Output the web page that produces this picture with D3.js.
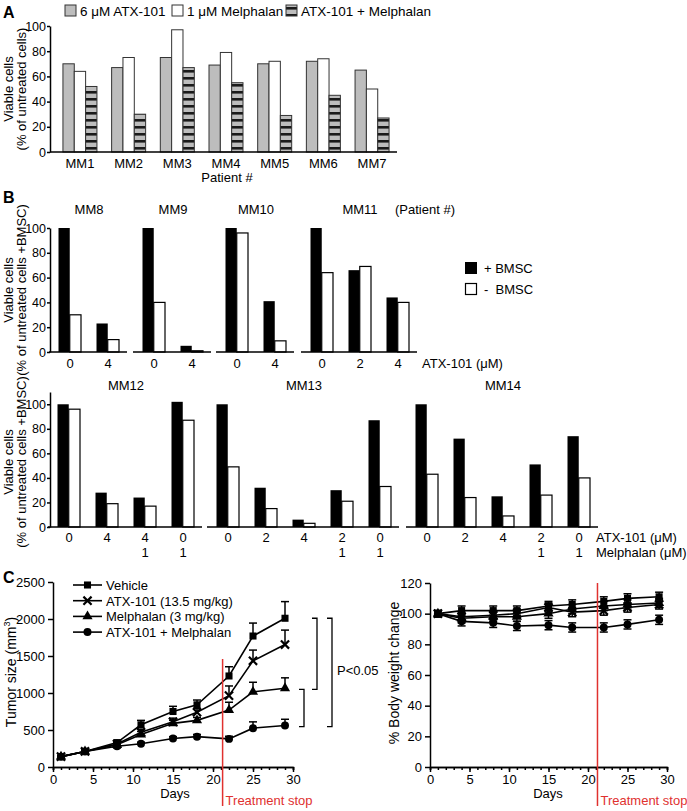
<!DOCTYPE html>
<html>
<head>
<meta charset="utf-8">
<script src="https://cdn.jsdelivr.net/npm/d3@7"></script>
<style>
  body { margin: 0; background: #fff; }
  svg text { font-family: Arial, "Liberation Sans", sans-serif; fill: #000; }
</style>
</head>
<body>
<div id="chart"></div>
<script>
// ---------- Panel A data
const patientsA = ["MM1", "MM2", "MM3", "MM4", "MM5", "MM6", "MM7"];
const atxA = [70, 67, 75, 69, 70, 72, 65];
const melphalanA = [64, 75, 97, 79, 72, 74, 50];
const comboA = [52, 30, 67, 55, 29, 45, 27];
const legendA = ["6 μM ATX-101", "1 μM Melphalan", "ATX-101 + Melphalan"];

// ---------- Panel B data
const patientsTop = ["MM8", "MM9", "MM10", "MM11"];
const atxTop = [[0, 4], [0, 4], [0, 4], [0, 2, 4]];
const plusTop = [[100, 23], [100, 5], [100, 41], [100, 66, 44]];
const minusTop = [[30, 10], [40, 1], [96, 9], [64, 69, 40]];

const patientsBottom = ["MM12", "MM13", "MM14"];
const atxBottom = [[0, 4, 4, 0], [0, 2, 4, 2, 0], [0, 2, 4, 2, 0]];
const melBottom = [["", "", "1", "1"], ["", "", "", "1", "1"], ["", "", "", "1", "1"]];
const plusBottom = [[100, 28, 24, 102], [100, 32, 6, 30, 87], [100, 72, 25, 51, 74]];
const minusBottom = [[96, 19, 17, 87], [49, 15, 3, 21, 33], [43, 24, 9, 26, 40]];

const yTicksB = [0, 20, 40, 60, 80, 100];

// ---------- Panel C data
const days = [1, 4, 8, 11, 15, 18, 22, 25, 29];
const seriesNames = ["Vehicle", "ATX-101 (13.5 mg/kg)", "Melphalan (3 mg/kg)", "ATX-101 + Melphalan"];
const tumorVehicle = [140, 210, 330, 570, 750, 840, 1230, 1770, 2010];
const tumorAtx = [140, 210, 310, 470, 610, 740, 965, 1435, 1655];
const tumorMel = [140, 210, 300, 440, 590, 630, 770, 1015, 1065];
const tumorCombo = [140, 210, 280, 315, 385, 410, 380, 525, 560];
const errVehicle = [10, 15, 20, 60, 70, 65, 125, 175, 225];
const errAtx = [10, 15, 20, 40, 50, 50, 130, 145, 195];
const errMel = [10, 15, 20, 40, 40, 40, 105, 130, 140];
const errCombo = [10, 15, 15, 20, 25, 30, 35, 85, 85];

const weightVehicle = [100, 102, 102, 102, 105, 106, 108, 110, 111];
const weightAtx = [100, 98, 99, 100, 104, 101, 102, 104, 106];
const weightMel = [100, 97, 98, 98, 100, 103, 105, 106, 107];
const weightCombo = [100, 95, 94, 92, 92.5, 91, 91, 93, 96];
const weightErr = [2, 3, 3, 3, 3, 3, 3, 3, 3];

const treatmentStop = 21.2;
const pLabel = "P<0.05";

// ---------- setup
const svg = d3.select("#chart").append("svg")
    .attr("width", 687)
    .attr("height", 811);

const defs = svg.append("defs");
const pat = defs.append("pattern")
    .attr("id", "stripes")
    .attr("patternUnits", "userSpaceOnUse")
    .attr("width", 8).attr("height", 7);
pat.append("rect").attr("width", 8).attr("height", 7).attr("fill", "#bdbdbd");
pat.append("rect").attr("width", 8).attr("height", 2.6).attr("fill", "#1a1a1a");

function styleAxis(g, size) {
    g.attr("font-family", null).attr("font-size", size || 12);
    g.select(".domain").attr("stroke", "#000").attr("stroke-width", 1.5);
    g.selectAll(".tick line").attr("stroke", "#000").attr("stroke-width", 1.5);
    g.selectAll(".tick text").attr("fill", "#000");
}

function label(x, y, txt, opts) {
    opts = opts || {};
    const t = svg.append("text")
        .attr("x", x).attr("y", y)
        .attr("font-size", opts.size || 13)
        .attr("text-anchor", opts.anchor || "start")
        .text(txt);
    if (opts.bold) t.attr("font-weight", "bold");
    if (opts.rotate) t.attr("transform", `rotate(-90,${x},${y})`);
    if (opts.fill) t.style("fill", opts.fill);
    if (opts.pre) t.style("white-space", "pre");
    return t;
}

// panel letters
label(3, 18, "A", { size: 16, bold: true });
label(3, 203, "B", { size: 16, bold: true });
label(3, 583, "C", { size: 16, bold: true });

// ================= Panel A
const yA = d3.scaleLinear().domain([0, 100]).range([152, 26]);
const xA = d3.scaleBand().domain(patientsA).range([55.6, 396.4]);
const innerA = d3.scaleBand().domain([0, 1, 2]).range([-17, 17]);
const fillsA = ["#bdbdbd", "#fff", "url(#stripes)"];
const seriesA = [atxA, melphalanA, comboA];

const gA = svg.append("g");
seriesA.forEach((vals, s) => {
    gA.selectAll(null)
        .data(vals)
        .join("rect")
        .attr("x", (d, i) => xA(patientsA[i]) + xA.bandwidth() / 2 + innerA(s))
        .attr("y", d => yA(d))
        .attr("width", innerA.bandwidth())
        .attr("height", d => yA(0) - yA(d))
        .attr("fill", fillsA[s])
        .attr("stroke", "#333")
        .attr("stroke-width", 1);
});
gA.append("g")
    .attr("transform", "translate(50,0)")
    .call(d3.axisLeft(yA).tickValues([0, 20, 40, 60, 80, 100]).tickSize(3).tickPadding(1).tickSizeOuter(0))
    .call(styleAxis, 12.5);
gA.append("line")
    .attr("x1", 50).attr("x2", 397)
    .attr("y1", yA(0)).attr("y2", yA(0))
    .attr("stroke", "#000").attr("stroke-width", 1.5);
gA.selectAll(null)
    .data(patientsA)
    .join("text")
    .attr("x", d => xA(d) + xA.bandwidth() / 2)
    .attr("y", 168)
    .attr("text-anchor", "middle")
    .attr("font-size", 13)
    .text(d => d);
label(227, 182, "Patient #", { anchor: "middle" });
label(13, 89, "Viable cells", { rotate: true, anchor: "middle" });
label(26, 89, "(% of untreated cells)", { rotate: true, anchor: "middle" });

// legend A
const legX = [65, 172, 286];
legendA.forEach((name, i) => {
    svg.append("rect")
        .attr("x", legX[i]).attr("y", 5)
        .attr("width", 11).attr("height", 11)
        .attr("fill", fillsA[i]).attr("stroke", "#333").attr("stroke-width", 1);
    label(legX[i] + 15, 15.5, name, { size: 13.5 });
});

// ================= Panel B
function drawSubplot(x0, x1, yScale, title, atx, mel, plus, minus, labelY) {
    const n = atx.length;
    const xb = d3.scaleBand().domain(d3.range(n)).range([x0, x1]);
    const inner = d3.scaleBand().domain(["plus", "minus"]).range([-11.5, 11]);
    const g = svg.append("g");
    const center = i => xb(i) + xb.bandwidth() / 2;
    g.selectAll(null).data(plus).join("rect")
        .attr("x", (d, i) => center(i) + inner("plus"))
        .attr("y", d => yScale(d))
        .attr("width", inner.bandwidth())
        .attr("height", d => yScale(0) - yScale(d))
        .attr("fill", "#000");
    g.selectAll(null).data(minus).join("rect")
        .attr("x", (d, i) => center(i) + inner("minus"))
        .attr("y", d => yScale(d))
        .attr("width", inner.bandwidth())
        .attr("height", d => yScale(0) - yScale(d))
        .attr("fill", "#fff").attr("stroke", "#000").attr("stroke-width", 1.2);
    g.append("line")
        .attr("x1", x0 - 2).attr("x2", x1)
        .attr("y1", yScale(0)).attr("y2", yScale(0))
        .attr("stroke", "#000").attr("stroke-width", 1.5);
    g.selectAll(null).data(atx).join("text")
        .attr("x", (d, i) => center(i))
        .attr("y", labelY)
        .attr("text-anchor", "middle")
        .attr("font-size", 13)
        .text(d => d);
    if (mel) {
        g.selectAll(null).data(mel).join("text")
            .attr("x", (d, i) => center(i))
            .attr("y", labelY + 15)
            .attr("text-anchor", "middle")
            .attr("font-size", 13)
            .text(d => d);
    }
    g.append("text")
        .attr("x", (x0 + x1) / 2)
        .attr("y", yScale(100) - 14)
        .attr("text-anchor", "middle")
        .attr("font-size", 13)
        .text(title);
}

const yBTop = d3.scaleLinear().domain([0, 100]).range([352, 228]);
const topRanges = [[51, 127], [135, 211], [218, 294], [303, 417]];
patientsTop.forEach((p, k) => {
    drawSubplot(topRanges[k][0], topRanges[k][1], yBTop, p, atxTop[k], null, plusTop[k], minusTop[k], 368);
});
svg.append("g")
    .attr("transform", "translate(50,0)")
    .call(d3.axisLeft(yBTop).tickValues(yTicksB).tickSize(3).tickPadding(1).tickSizeOuter(0))
    .call(styleAxis, 12.5);
label(425, 214, "(Patient #)", { anchor: "middle" });
label(422, 368, "ATX-101 (μM)");
label(13, 290, "Viable cells", { rotate: true, anchor: "middle" });
label(26, 290, "(% of untreated cells +BMSC)", { rotate: true, anchor: "middle" });

// legend B
svg.append("rect").attr("x", 465).attr("y", 262).attr("width", 12).attr("height", 12).attr("fill", "#000");
svg.append("rect").attr("x", 465.5).attr("y", 283.5).attr("width", 11).attr("height", 11)
    .attr("fill", "#fff").attr("stroke", "#000").attr("stroke-width", 1.2);
label(484, 273, "+ BMSC");
label(484, 294, "-  BMSC", { pre: true });

const yBBot = d3.scaleLinear().domain([0, 110]).range([527, 392]);
const botRanges = [[50, 202], [209, 399], [408, 598]];
patientsBottom.forEach((p, k) => {
    drawSubplot(botRanges[k][0], botRanges[k][1], yBBot, p, atxBottom[k], melBottom[k], plusBottom[k], minusBottom[k], 542);
});
svg.append("g")
    .attr("transform", "translate(50,0)")
    .call(d3.axisLeft(yBBot).tickValues(yTicksB).tickSize(3).tickPadding(1).tickSizeOuter(0))
    .call(styleAxis, 12.5);
label(596, 542, "ATX-101 (μM)");
label(596, 557, "Melphalan (μM)");
label(13, 462, "Viable cells", { rotate: true, anchor: "middle" });
label(26, 462, "(% of untreated cells +BMSC)", { rotate: true, anchor: "middle" });

// ================= Panel C
const symbols = [d3.symbolSquare, d3.symbolTimes, d3.symbolTriangle, d3.symbolCircle];
const symSizes = [50, 45, 45, 50];

function drawMarker(g, k, x, y) {
    const p = g.append("path")
        .attr("transform", `translate(${x},${y})`)
        .attr("d", d3.symbol().type(symbols[k]).size(symSizes[k])());
    if (k === 1) p.attr("fill", "none").attr("stroke", "#000").attr("stroke-width", 2.2);
    else p.attr("fill", "#000");
}

function drawLines(g, xs, ys, seriesList, errList, symmetric) {
    const line = d3.line().x((d, i) => xs(days[i])).y(d => ys(d));
    seriesList.forEach((vals, k) => {
        // error bars
        vals.forEach((v, i) => {
            const e = errList[k][i];
            const x = xs(days[i]);
            const yTop = ys(v + e);
            const yBot = symmetric ? ys(v - e) : ys(v);
            g.append("line").attr("x1", x).attr("x2", x).attr("y1", yTop).attr("y2", yBot)
                .attr("stroke", "#000").attr("stroke-width", 1.5);
            g.append("line").attr("x1", x - 4).attr("x2", x + 4).attr("y1", yTop).attr("y2", yTop)
                .attr("stroke", "#000").attr("stroke-width", 1.5);
            if (symmetric) {
                g.append("line").attr("x1", x - 4).attr("x2", x + 4).attr("y1", yBot).attr("y2", yBot)
                    .attr("stroke", "#000").attr("stroke-width", 1.5);
            }
        });
        g.append("path").datum(vals)
            .attr("d", line)
            .attr("fill", "none").attr("stroke", "#000").attr("stroke-width", 1.6);
        vals.forEach((v, i) => drawMarker(g, k, xs(days[i]), ys(v)));
    });
}

function dayAxis(g, xs, y) {
    g.append("g")
        .attr("transform", `translate(0,${y})`)
        .call(d3.axisBottom(xs).tickValues(d3.range(0, 31, 1)).tickSize(3).tickFormat(() => ""))
        .call(styleAxis);
    g.append("g")
        .attr("transform", `translate(0,${y})`)
        .call(d3.axisBottom(xs).tickValues([0, 5, 10, 15, 20, 25, 30]).tickSize(5).tickSizeOuter(0))
        .call(styleAxis, 13);
}

// left: tumor size
const xC1 = d3.scaleLinear().domain([0, 30]).range([53, 293]);
const yC1 = d3.scaleLinear().domain([0, 2500]).range([767, 582]);
const gC1 = svg.append("g");
const tumorSeries = [tumorVehicle, tumorAtx, tumorMel, tumorCombo];
drawLines(gC1, xC1, yC1, tumorSeries, [errVehicle, errAtx, errMel, errCombo], false);
gC1.append("g")
    .attr("transform", `translate(${xC1(0)},0)`)
    .call(d3.axisLeft(yC1).tickValues([0, 500, 1000, 1500, 2000, 2500]).tickFormat(d3.format("d")).tickSize(5).tickSizeOuter(0))
    .call(styleAxis, 13);
dayAxis(gC1, xC1, yC1(0));

gC1.append("line")
    .attr("x1", xC1(treatmentStop)).attr("x2", xC1(treatmentStop))
    .attr("y1", 659).attr("y2", 806)
    .attr("stroke", "#e0312f").attr("stroke-width", 1.5);
label(xC1(treatmentStop) + 3, 805, "Treatment stop", { fill: "#e0312f" });
label(175, 798, "Days", { anchor: "middle" });

const tl = svg.append("text")
    .attr("transform", `translate(16,672) rotate(-90)`)
    .attr("text-anchor", "middle")
    .attr("font-size", 14);
tl.append("tspan").text("Tumor size (mm");
tl.append("tspan").attr("font-size", 9).attr("dy", -6).text("3");
tl.append("tspan").attr("dy", 6).text(")");

// legend C
seriesNames.forEach((name, k) => {
    const y = 585 + k * 15.7;
    const g = svg.append("g");
    g.append("line").attr("x1", 73).attr("x2", 102).attr("y1", y).attr("y2", y)
        .attr("stroke", "#000").attr("stroke-width", 1.6);
    drawMarker(g, k, 87.5, y);
    label(106, y + 5, name, { size: 13 });
});

// significance brackets
const last = days.length - 1;
function bracket(xp, v1, v2) {
    const y1 = yC1(v1), y2 = yC1(v2);
    svg.append("path")
        .attr("d", `M${xp - 5},${y1}H${xp}V${y2}H${xp - 5}`)
        .attr("fill", "none").attr("stroke", "#000").attr("stroke-width", 1.3);
}
const xEnd = xC1(days[last]);
bracket(xEnd + 32, tumorVehicle[last], tumorMel[last] - 15);
bracket(xEnd + 19, tumorMel[last] - 15, tumorCombo[last] - 15);
bracket(xEnd + 47, tumorVehicle[last], tumorCombo[last] - 15);
label(337, 675, pLabel, { size: 13 });

// right: body weight
const xC2 = d3.scaleLinear().domain([0, 30]).range([430, 667]);
const yC2 = d3.scaleLinear().domain([0, 120]).range([767, 583]);
const gC2 = svg.append("g");
const weightSeries = [weightVehicle, weightAtx, weightMel, weightCombo];
drawLines(gC2, xC2, yC2, weightSeries, [weightErr, weightErr, weightErr, weightErr], true);
gC2.append("g")
    .attr("transform", `translate(${xC2(0)},0)`)
    .call(d3.axisLeft(yC2).tickValues([0, 20, 40, 60, 80, 100, 120]).tickSize(5).tickSizeOuter(0))
    .call(styleAxis, 13);
dayAxis(gC2, xC2, yC2(0));
gC2.append("line")
    .attr("x1", xC2(treatmentStop)).attr("x2", xC2(treatmentStop))
    .attr("y1", 583).attr("y2", 806)
    .attr("stroke", "#e0312f").attr("stroke-width", 1.5);
label(xC2(treatmentStop) + 3, 805, "Treatment stop", { fill: "#e0312f" });
label(548, 798, "Days", { anchor: "middle" });
label(399, 673, "% Body weight change", { rotate: true, anchor: "middle", size: 14 });
</script>
</body>
</html>
